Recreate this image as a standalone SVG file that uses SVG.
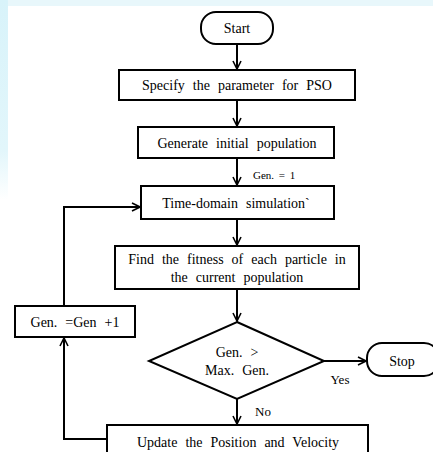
<svg xmlns="http://www.w3.org/2000/svg" width="433" height="452" viewBox="0 0 433 452" font-family="'Liberation Serif', 'Times New Roman', 'DejaVu Serif', serif">
<defs>
<marker id="ah" viewBox="0 0 10 10" refX="9" refY="5" markerWidth="10" markerHeight="10" markerUnits="userSpaceOnUse" orient="auto">
<path d="M1,1 L9,5 L1,9" fill="none" stroke="#000" stroke-width="1.6"/>
</marker>
<linearGradient id="fade" x1="0" y1="0" x2="0" y2="1">
<stop offset="0" stop-color="#d8f3fa"/>
<stop offset="0.75" stop-color="#e2f6fb"/>
<stop offset="1" stop-color="#ffffff"/>
</linearGradient>
<style>
.bx{fill:#fff;stroke:#000;stroke-width:2}
.t{font-family:'Liberation Serif','Times New Roman','DejaVu Serif',serif;font-size:14px;fill:#000;text-anchor:middle;word-spacing:4.5px}
.s{font-family:'Liberation Serif','Times New Roman','DejaVu Serif',serif;font-size:11px;fill:#000;word-spacing:2px}
.ln{fill:none;stroke:#000;stroke-width:2;marker-end:url(#ah)}
</style>
</defs>
<rect x="0" y="0" width="433" height="452" fill="#fff"/>
<rect x="0" y="0" width="433" height="6" fill="#e8f7fb"/>
<rect x="0" y="0" width="8" height="200" fill="url(#fade)"/>
<g id="start"><rect class="bx" x="201" y="12" width="72" height="32" rx="15"/><text class="t" x="237" y="33">Start</text></g>
<g id="specify"><rect class="bx" x="119" y="70" width="236" height="30"/><text class="t" x="237" y="90">Specify the parameter for PSO</text></g>
<g id="generate"><rect class="bx" x="138" y="127" width="196" height="31"/><text class="t" x="237" y="148">Generate initial population</text></g>
<g id="time"><rect class="bx" x="141" y="186" width="193" height="33"/><text class="t" x="236" y="208">Time-domain simulation`</text></g>
<g id="fitness"><rect class="bx" x="115" y="246" width="244" height="43"/><text class="t" x="237" y="264">Find the fitness of each particle in</text><text class="t" x="237" y="282">the current population</text></g>
<g id="decision"><polygon class="bx" points="237,322 324,361 237,399 149,361"/><text class="t" x="237" y="357">Gen. &gt;</text><text class="t" x="237" y="375">Max. Gen.</text></g>
<g id="stop"><rect class="bx" x="367" y="343" width="72" height="33" rx="15"/><text class="t" x="402" y="366">Stop</text></g>
<g id="update"><rect class="bx" x="107" y="425" width="261" height="40"/><text class="t" x="238" y="447">Update the Position and Velocity</text></g>
<g id="gen"><rect class="bx" x="15" y="306" width="120" height="31"/><text class="t" x="75" y="327">Gen. =Gen +1</text></g>
<g id="connectors">
<line class="ln" x1="237" y1="44" x2="237" y2="69"/>
<line class="ln" x1="237" y1="100" x2="237" y2="126"/>
<line class="ln" x1="237" y1="158" x2="237" y2="185"/>
<line class="ln" x1="237" y1="219" x2="237" y2="245"/>
<line class="ln" x1="237" y1="289" x2="237" y2="321"/>
<line class="ln" x1="324" y1="361" x2="366" y2="361"/>
<line class="ln" x1="237" y1="399" x2="237" y2="424"/>
<polyline class="ln" points="107,439 64,439 64,338"/>
<polyline class="ln" points="64,306 64,207 140,207"/>
<text class="s" x="253" y="179">Gen. = 1</text>
<text class="t" x="340" y="384" style="font-size:13px">Yes</text>
<text class="t" x="263" y="416" style="font-size:13px">No</text>
</g>
</svg>
